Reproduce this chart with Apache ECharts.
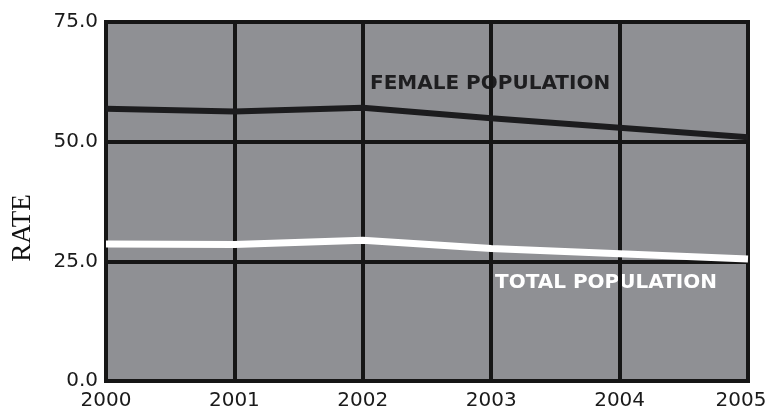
<!DOCTYPE html>
<html><head><meta charset="utf-8">
<script src="https://cdn.jsdelivr.net/npm/echarts@6/dist/echarts.min.js"></script>
<style>html,body{margin:0;padding:0;background:#fff}#c{width:767px;height:408px}</style>
</head><body><div id="c"></div>
<script>
const years = ['2000','2001','2002','2003','2004','2005'];
const female = [56.9, 56.3, 57.1, 54.9, 52.9, 50.9];
const total = [28.6, 28.5, 29.4, 27.7, 26.6, 25.5];
const yTicks = [0, 25, 50, 75];

const labelFont = {color: '#1a1a1a', fontFamily: 'DejaVu Sans', fontSize: 20};
const chart = echarts.init(document.getElementById('c'));
chart.setOption({
  animation: false,
  grid: {left: 106, right: 19, top: 22, bottom: 27, containLabel: false, outerBoundsMode: 'none', show: true, backgroundColor: '#8f9094', borderColor: '#161616', borderWidth: 4},
  xAxis: {
    type: 'category', data: years, boundaryGap: false,
    axisLine: {show: false}, axisTick: {show: false},
    axisLabel: Object.assign({}, labelFont, {margin: 10, hideOverlap: false,
      formatter: (v, i) => i === years.length - 1 ? '{l|' + v + '}' : v,
      rich: {l: Object.assign({}, labelFont, {padding: [0, 14, 7, 0]})}}),
    splitLine: {show: true, lineStyle: {color: '#161616', width: 4}}
  },
  yAxis: {
    type: 'value', min: yTicks[0], max: yTicks[yTicks.length-1], interval: 25,
    axisLine: {show: false}, axisTick: {show: false},
    axisLabel: Object.assign({}, labelFont, {margin: 8, formatter: v => v.toFixed(1)}),
    splitLine: {show: true, lineStyle: {color: '#161616', width: 4}}
  },
  series: [
    {type: 'line', data: female, symbol: 'none', lineStyle: {color: '#1c1c1e', width: 6}},
    {type: 'line', data: total, symbol: 'none', lineStyle: {color: '#ffffff', width: 7}}
  ],
  graphic: [
    {type: 'text', x: 23, y: 228, rotation: Math.PI/2, style: {text: 'RATE', fill: '#111', fontSize: 27, fontFamily: 'Liberation Serif', textAlign: 'center', textVerticalAlign: 'middle'}},
    {type: 'text', left: 370, top: 74, style: {text: 'FEMALE POPULATION', fill: '#1e1e20', fontSize: 20, fontWeight: 'bold', fontFamily: 'DejaVu Sans'}},
    {type: 'text', left: 495, top: 273, style: {text: 'TOTAL POPULATION', fill: '#ffffff', fontSize: 20, fontWeight: 'bold', fontFamily: 'DejaVu Sans'}}
  ]
});
</script></body></html>
